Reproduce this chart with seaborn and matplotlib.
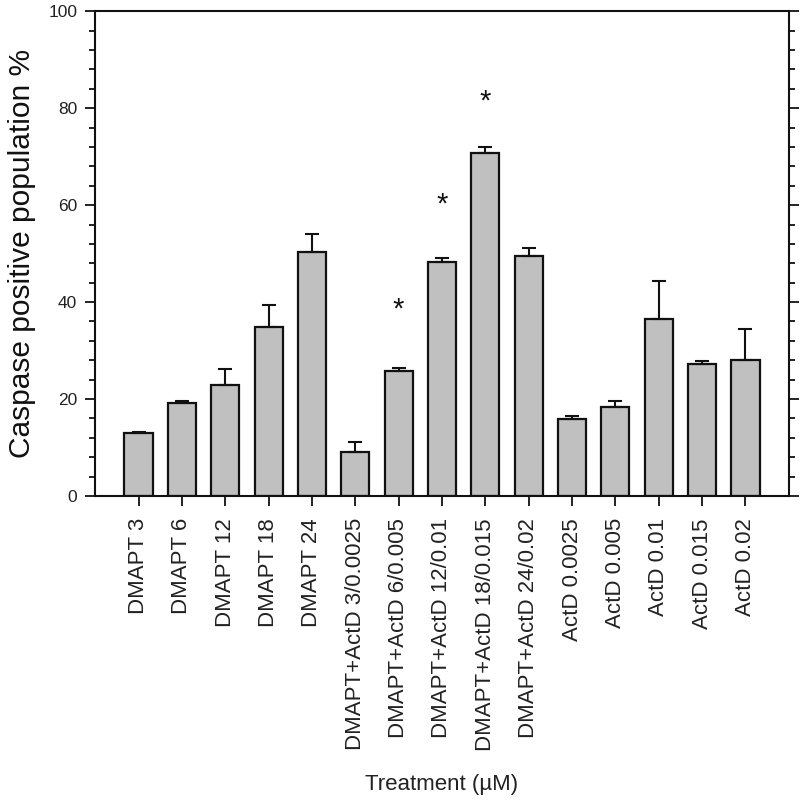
import numpy as np
import pandas as pd
import seaborn as sns
import matplotlib.pyplot as plt
from matplotlib.ticker import MultipleLocator

# Treatment groups and caspase positive population (%)
treatments = ['DMAPT 3', 'DMAPT 6', 'DMAPT 12', 'DMAPT 18', 'DMAPT 24',
              'DMAPT+ActD 3/0.0025', 'DMAPT+ActD 6/0.005', 'DMAPT+ActD 12/0.01',
              'DMAPT+ActD 18/0.015', 'DMAPT+ActD 24/0.02',
              'ActD 0.0025', 'ActD 0.005', 'ActD 0.01', 'ActD 0.015', 'ActD 0.02']
means = [13.0, 19.2, 22.9, 34.8, 50.3, 9.0, 25.8, 48.3, 70.8, 49.6,
         15.8, 18.3, 36.6, 27.2, 28.0]
errors = [0.3, 0.3, 3.2, 4.6, 3.7, 2.1, 0.6, 0.7, 1.2, 1.6,
          0.6, 1.2, 7.8, 0.7, 6.4]

# significance markers (group, height of the star)
star_groups = ['DMAPT+ActD 6/0.005', 'DMAPT+ActD 12/0.01', 'DMAPT+ActD 18/0.015']
star_heights = [38.4, 60.2, 81.3]

df = pd.DataFrame({'treatment': treatments, 'value': means, 'err': errors})

sns.set_style('ticks')
plt.rcParams['font.family'] = ['Liberation Sans', 'DejaVu Sans']

fig = plt.figure(figsize=(8, 8), dpi=100)
ax = fig.add_axes([0.119, 0.38, 0.867, 0.606])

sns.barplot(data=df, x='treatment', y='value', color='#c0c0c0', saturation=1,
            edgecolor='#111111', linewidth=1.6, width=0.65, errorbar=None, ax=ax)

# upper error bars only
xpos = np.arange(len(df))
ax.errorbar(xpos, df['value'], yerr=[np.zeros(len(df)), df['err']], fmt='none',
            ecolor='#111111', elinewidth=1.5, capsize=4.8, capthick=1.5)

for g, h in zip(star_groups, star_heights):
    ax.text(treatments.index(g), h, '*', ha='center', va='center',
            fontsize=21, color='#111111')

ax.set_xlim(-1, len(df))
ax.set_ylim(0, 100)
ax.yaxis.set_major_locator(MultipleLocator(20))
ax.yaxis.set_minor_locator(MultipleLocator(4))

for side in ['left', 'right', 'top', 'bottom']:
    ax.spines[side].set_visible(True)
    ax.spines[side].set_linewidth(1.5)
    ax.spines[side].set_color('#111111')

ax.tick_params(axis='y', which='both', direction='out', right=True, labelright=False,
               width=1.3, color='#111111')
ax.tick_params(axis='y', which='major', length=7, labelsize=12.5, pad=6, labelcolor='#222222')
ax.tick_params(axis='y', which='minor', length=4)
ax.tick_params(axis='x', which='major', direction='out', length=7, width=1.3,
               color='#111111', labelsize=16, pad=9, labelcolor='#222222')
ax.set_xticks(xpos)
ax.set_xticklabels(treatments, rotation=90, ha='center', va='top')

ax.set_ylabel('Caspase positive population %', fontsize=21.5, color='#111111', labelpad=9)
ax.set_xlabel('Treatment (\u00b5M)', fontsize=16, color='#222222', labelpad=17)

fig.savefig('out.png', dpi=100)
